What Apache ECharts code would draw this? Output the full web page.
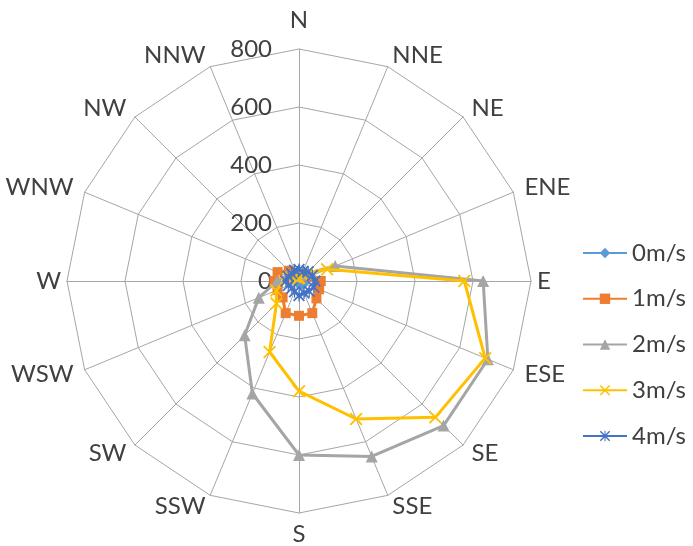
<!DOCTYPE html>
<html>
<head>
<meta charset="utf-8">
<script src="https://cdn.jsdelivr.net/npm/echarts@6/dist/echarts.min.js"></script>
<style>
  html, body { margin: 0; padding: 0; background: #fff; }
  #chart { width: 693px; height: 546px; }
</style>
</head>
<body>
<div id="chart"></div>
<script>
// Wind directions, clockwise from north
const directions = ['N', 'NNE', 'NE', 'ENE', 'E', 'ESE', 'SE', 'SSE', 'S', 'SSW', 'SW', 'WSW', 'W', 'WNW', 'NW', 'NNW'];
const seriesNames = ['0m/s', '1m/s', '2m/s', '3m/s', '4m/s'];
// Counts per direction for each wind speed
const speed0 = [5, 5, 8, 10, 15, 20, 20, 15, 10, 8, 8, 10, 10, 8, 5, 5];
const speed1 = [25, 25, 30, 40, 75, 75, 85, 120, 120, 120, 80, 80, 85, 80, 50, 30];
const speed2 = [20, 25, 35, 135, 635, 705, 705, 655, 600, 420, 265, 150, 75, 45, 30, 20];
const speed3 = [10, 25, 40, 105, 570, 695, 665, 515, 380, 265, 110, 85, 50, 30, 20, 10];
const speed4 = [40, 35, 45, 50, 55, 55, 50, 45, 50, 40, 35, 40, 45, 40, 35, 40];
const radialMax = 800;

const colors = ['#5B9BD5', '#ED7D31', '#A5A5A5', '#FFC000', '#4472C4'];
const crossPath = 'path://M0,1.2L1.2,0L12,10.8L10.8,12ZM10.8,0L12,1.2L1.2,12L0,10.8Z';
const starPath = 'path://M0,1.2L1.2,0L12,10.8L10.8,12ZM10.8,0L12,1.2L1.2,12L0,10.8ZM5.4,0L6.6,0L6.6,12L5.4,12Z';
const symbols = ['diamond', 'rect', 'triangle', crossPath, starPath];
const symbolSizes = [10, 10, 12, 13, 12];
const allData = [speed0, speed1, speed2, speed3, speed4];

// ECharts lays radar indicators out counter-clockwise, so walk the list backwards after N
const order = [0].concat(directions.map((_, i) => i).slice(1).reverse());
const reorder = arr => order.map(i => arr[i]);

const font = 'Lato, "Liberation Sans", sans-serif';
const textColor = '#404040';
const fontSize = 24;

// Per-direction spacing between the outer ring and its label
const labelGaps = { N: 17, S: 9, E: 6, W: 6 };

const indicator = order.map(i => {
  const name = directions[i];
  const ind = { name: name, min: 0, max: radialMax };
  if (name === 'N') {
    ind.axisLabel = { show: true };
  }
  if (labelGaps[name] != null) {
    ind.nameGap = labelGaps[name];
  }
  return ind;
});

const radarSeries = allData.map((arr, s) => ({
  type: 'radar',
  name: seriesNames[s],
  symbol: symbols[s],
  symbolSize: symbolSizes[s],
  z: 3 + s,
  lineStyle: { color: colors[s], width: 3 },
  itemStyle: { color: colors[s] },
  data: [{ name: seriesNames[s], value: reorder(arr) }]
}));

// Line series carry the legend icons (line with marker)
const legendSeries = seriesNames.map((n, s) => ({
  type: 'line',
  name: n,
  data: [],
  symbol: symbols[s],
  symbolSize: symbolSizes[s],
  lineStyle: { color: colors[s], width: 3 },
  itemStyle: { color: colors[s] }
}));

const chart = echarts.init(document.getElementById('chart'), null, { renderer: 'canvas' });
chart.setOption({
  animation: false,
  backgroundColor: '#ffffff',
  color: colors,
  grid: { left: -50, top: -50, width: 10, height: 10, show: false },
  xAxis: { type: 'category', show: false },
  yAxis: { type: 'value', show: false },
  legend: {
    orient: 'vertical',
    left: 577,
    top: 236,
    itemWidth: 44,
    itemHeight: 13,
    itemGap: 21.75,
    textStyle: { fontFamily: font, fontSize: fontSize, color: textColor },
    data: seriesNames
  },
  radar: {
    center: [299, 281],
    radius: 232,
    startAngle: 90,
    shape: 'polygon',
    splitNumber: 4,
    nameGap: 12,
    indicator: indicator,
    axisName: { color: textColor, fontSize: fontSize, fontFamily: font },
    axisLine: { lineStyle: { color: '#A6A6A6', width: 1 } },
    splitLine: { lineStyle: { color: '#A6A6A6', width: 1 } },
    splitArea: { show: false },
    axisTick: { show: false },
    axisLabel: { show: false, color: textColor, fontSize: fontSize, fontFamily: font, margin: 27 }
  },
  series: legendSeries.concat(radarSeries)
});
</script>
</body>
</html>
